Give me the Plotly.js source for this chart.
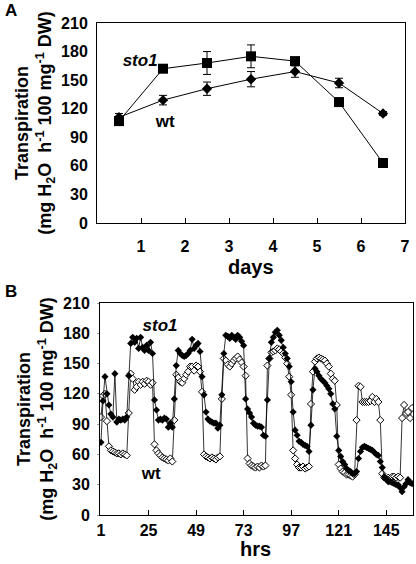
<!DOCTYPE html>
<html><head><meta charset="utf-8">
<script src="https://cdn.plot.ly/plotly-3.0.1.min.js"></script>
<style>html,body{margin:0;padding:0;background:#fff;}#chart{width:416px;height:564px;}</style>
</head><body><div id="chart"></div>
<script>
// Panel A: daily transpiration
const daysX = [0.5, 1.5, 2.5, 3.5, 4.5, 5.5, 6.5];
const sto1Daily = [107, 162, 168, 175, 170, 127, 63];
const sto1DailyErr = [3, 3, 12, 12, 3, 3, 2];
const wtDaily = [111, 129, 141, 151, 159, 147, 115];
const wtDailyErr = [4, 5, 7, 8, 6, 5, 2];
const daysTicks = [1, 2, 3, 4, 5, 6, 7];

// Panel B: hourly transpiration (hours 1..158)
const sto1Hourly = [72,113,137,120,109,100,97,140,92,95,94,95,94,97,138,170,176,171,175,165,
176,166,163,168,163,171,160,114,104,94,95,94,96,95,87,91,87,115,148,163,
160,158,157,158,160,163,174,165,168,170,162,137,119,102,95,93,92,91,91,86,
89,119,160,178,177,175,178,176,174,178,176,172,168,115,105,101,97,91,89,88,
88,87,79,78,114,155,171,176,181,183,178,173,166,160,155,147,132,102,84,79,
73,72,70,69,68,63,89,124,145,142,138,135,133,131,128,125,120,110,105,78,
64,58,53,50,46,44,43,41,41,43,56,63,67,68,67,66,65,64,62,60,
59,53,47,38,36,33,33,32,31,30,30,27,23,28,31,35,32,31];
const wtHourly = [97,118,120,93,68,64,63,62,61,61,60,61,60,59,101,140,135,124,127,132,
129,132,130,133,132,129,131,70,64,61,59,57,56,55,54,56,53,94,139,136,
132,131,135,139,142,147,147,143,148,147,142,122,60,58,57,56,57,56,55,57,
58,115,155,153,149,147,150,153,155,157,154,151,147,138,56,51,49,48,47,48,
47,49,48,49,148,155,161,162,163,165,164,162,160,156,150,137,119,64,56,50,
47,47,48,46,47,48,110,142,152,155,156,155,154,153,150,147,140,135,133,109,
50,46,43,42,40,40,39,38,40,94,128,127,112,112,112,112,113,117,112,115,
112,94,41,37,36,37,36,38,38,37,38,37,96,109,101,102,96,106];
const hoursX = sto1Hourly.map((_, i) => i + 1);
const hoursTicks = [1, 25, 49, 73, 97, 121, 145];
const yTicks = [0, 30, 60, 90, 120, 150, 180, 210];

const W = 416, H = 564;
const FONT = 'Liberation Sans, Arial, sans-serif';
const tickFont = {family: FONT, size: 16, color: '#000', weight: 700};
const yTitleText = 'Transpiration<br>(mg H<sub>2</sub>O  h<sup>-1</sup> 100 mg<sup>-1</sup> DW)';

function label(txt, xa, ya, x, y, size) {
  return {x: [x], y: [y], xaxis: xa, yaxis: ya, mode: 'text', text: [txt],
    textposition: 'middle center', hoverinfo: 'skip',
    textfont: {family: FONT, size: size, color: '#000', weight: 700}};
}

const traces = [
  {x: daysX, y: wtDaily, xaxis: 'x', yaxis: 'y', mode: 'lines+markers', name: 'wt',
   line: {color: '#000', width: 1}, marker: {symbol: 'diamond', size: 8, color: '#000'},
   error_y: {type: 'data', array: wtDailyErr, visible: true, color: '#000', thickness: 1, width: 4}},
  {x: daysX, y: sto1Daily, xaxis: 'x', yaxis: 'y', mode: 'lines+markers', name: 'sto1',
   line: {color: '#000', width: 1}, marker: {symbol: 'square', size: 10, color: '#000'},
   error_y: {type: 'data', array: sto1DailyErr, visible: true, color: '#000', thickness: 1, width: 4}},
  {x: hoursX, y: wtHourly, xaxis: 'x2', yaxis: 'y2', mode: 'lines+markers', name: 'wt',
   line: {color: '#000', width: 0.8},
   marker: {symbol: 'diamond', size: 5.5, color: '#fff', line: {color: '#000', width: 1}}},
  {x: hoursX, y: sto1Hourly, xaxis: 'x2', yaxis: 'y2', mode: 'lines+markers', name: 'sto1',
   line: {color: '#000', width: 0.8},
   marker: {symbol: 'diamond', size: 5.5, color: '#000'}},
  label('<i>sto1</i>', 'x', 'y', 0.98, 169, 17),
  label('wt', 'x', 'y', 1.55, 105, 17),
  label('<i>sto1</i>', 'x2', 'y2', 30.8, 186, 17),
  label('wt', 'x2', 'y2', 26.3, 40, 17)
];

function dom(a, b, total) { return [a / total, b / total]; }
function ydom(top, bottom) { return [1 - bottom / H, 1 - top / H]; }

const baseAxis = {
  showline: true, linecolor: '#000', linewidth: 1, mirror: true,
  showgrid: false, zeroline: false, tickfont: tickFont, fixedrange: true, automargin: false
};
const yTitle = {text: yTitleText, standoff: 4, font: {family: FONT, size: 18, color: '#000', weight: 700}};

const layout = {
  width: W, height: H, margin: {l: 0, r: 0, t: 0, b: 0},
  paper_bgcolor: '#fff', plot_bgcolor: '#fff', showlegend: false,
  font: {family: FONT, color: '#000'},
  xaxis: Object.assign({}, baseAxis, {domain: dom(97, 405, W), anchor: 'y', range: [0, 7],
    tickvals: daysTicks, ticks: 'inside', ticklen: 5, tickcolor: '#000', ticklabelstandoff: 9}),
  yaxis: Object.assign({}, baseAxis, {domain: ydom(23, 223), anchor: 'x', range: [0, 210],
    tickvals: yTicks, ticks: '', ticklabelstandoff: 5, title: yTitle}),
  xaxis2: Object.assign({}, baseAxis, {domain: dom(100, 413, W), anchor: 'y2', range: [0.5, 158.5],
    tickvals: hoursTicks, ticks: 'inside', ticklen: 5, tickcolor: '#000', ticklabelstandoff: 1}),
  yaxis2: Object.assign({}, baseAxis, {domain: ydom(303, 515), anchor: 'x2', range: [0, 210],
    tickvals: yTicks, ticks: 'outside', ticklen: 2, tickcolor: '#999', ticklabelstandoff: 4, title: yTitle}),
  annotations: [
    {text: 'A', xref: 'paper', yref: 'paper', x: 3 / W, y: 1 - 11 / H, xanchor: 'left', yanchor: 'middle',
     showarrow: false, font: {size: 17, weight: 700}},
    {text: 'B', xref: 'paper', yref: 'paper', x: 3 / W, y: 1 - 291 / H, xanchor: 'left', yanchor: 'middle',
     showarrow: false, font: {size: 17, weight: 700}},
    {text: 'days', xref: 'paper', yref: 'paper', x: 251 / W, y: 1 - 267 / H, xanchor: 'center', yanchor: 'middle',
     showarrow: false, font: {size: 20, weight: 700}},
    {text: 'hrs', xref: 'paper', yref: 'paper', x: 255 / W, y: 1 - 549 / H, xanchor: 'center', yanchor: 'middle',
     showarrow: false, font: {size: 20, weight: 700}}
  ]
};

Plotly.newPlot('chart', traces, layout, {staticPlot: true, displayModeBar: false});
</script></body></html>
